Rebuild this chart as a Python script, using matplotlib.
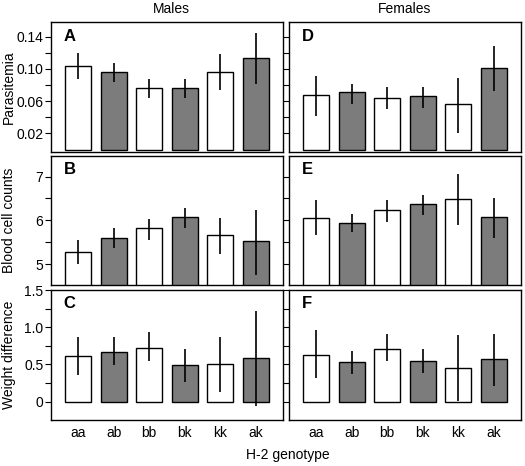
import numpy as np
import matplotlib
matplotlib.use("Agg")
import matplotlib.pyplot as plt

plt.rcParams['font.family'] = ['Liberation Sans', 'DejaVu Sans']

# 遺伝子型
genotypes = ["aa", "ab", "bb", "bk", "kk", "ak"]
bar_colors = ["white", "#7c7c7c", "white", "#7c7c7c", "white", "#7c7c7c"]

# A: Males parasitemia
para_m = [0.103, 0.0955, 0.0757, 0.0757, 0.0955, 0.113]
para_m_hi = [0.119, 0.107, 0.088, 0.088, 0.118, 0.144]
para_m_lo = [0.087, 0.084, 0.064, 0.064, 0.0736, 0.081]
# D: Females parasitemia
para_f = [0.067, 0.0708, 0.0634, 0.0658, 0.0559, 0.1005]
para_f_hi = [0.0906, 0.0807, 0.0777, 0.078, 0.0889, 0.1285]
para_f_lo = [0.041, 0.0563, 0.0497, 0.0517, 0.020, 0.0728]

# B: Males blood cell counts
blood_m = [5.27, 5.59, 5.82, 6.07, 5.66, 5.52]
blood_m_hi = [5.55, 5.82, 6.02, 6.28, 6.05, 6.24]
blood_m_lo = [4.99, 5.37, 5.55, 5.82, 5.24, 4.76]
# E: Females blood cell counts
blood_f = [6.05, 5.94, 6.23, 6.37, 6.49, 6.07]
blood_f_hi = [6.47, 6.14, 6.46, 6.58, 7.06, 6.51]
blood_f_lo = [5.66, 5.73, 5.97, 6.13, 5.90, 5.60]

# C: Males weight difference
weight_m = [0.62, 0.674, 0.727, 0.488, 0.501, 0.581]
weight_m_hi = [0.874, 0.874, 0.94, 0.709, 0.874, 1.214]
weight_m_lo = [0.355, 0.488, 0.549, 0.262, 0.129, -0.057]
# F: Females weight difference
weight_f = [0.63, 0.528, 0.714, 0.541, 0.448, 0.568]
weight_f_hi = [0.957, 0.682, 0.914, 0.714, 0.891, 0.904]
weight_f_lo = [0.315, 0.376, 0.545, 0.382, 0.004, 0.213]

# 行ごとの軸設定
rows = [
    dict(ylabel="Parasitemia", ylim=(-0.003, 0.158),
         ticks=[0.02, 0.04, 0.06, 0.08, 0.10, 0.12, 0.14],
         labels=["0.02", "", "0.06", "", "0.10", "", "0.14"]),
    dict(ylabel="Blood cell counts", ylim=(4.52, 7.47),
         ticks=[5, 5.5, 6, 6.5, 7],
         labels=["5", "", "6", "", "7"]),
    dict(ylabel="Weight difference", ylim=(-0.245, 1.5),
         ticks=[0, 0.25, 0.5, 0.75, 1.0, 1.25, 1.5],
         labels=["0", "", "0.5", "", "1.0", "", "1.5"]),
]
panels = [
    [("A", para_m, para_m_lo, para_m_hi), ("D", para_f, para_f_lo, para_f_hi)],
    [("B", blood_m, blood_m_lo, blood_m_hi), ("E", blood_f, blood_f_lo, blood_f_hi)],
    [("C", weight_m, weight_m_lo, weight_m_hi), ("F", weight_f, weight_f_lo, weight_f_hi)],
]

fig = plt.figure(figsize=(5.25, 4.66), dpi=100)
W, H = 525, 466
col_x = [51, 289]
col_w = 232
row_y = [(22, 152), (156, 285), (290, 420)]

x = np.arange(len(genotypes))
for r, row in enumerate(rows):
    top, bot = row_y[r]
    for c in range(2):
        ax = fig.add_axes([col_x[c] / W, (H - bot) / H, col_w / W, (bot - top) / H])
        letter, vals, lo, hi = panels[r][c]
        ax.bar(x, vals, width=0.74, color=bar_colors, edgecolor="black",
               linewidth=1.0, zorder=2)
        ax.vlines(x, lo, hi, colors="black", linewidth=1.2, zorder=3)
        ax.set_xlim(-0.77, 5.77)
        ax.set_ylim(*row["ylim"])
        ax.set_yticks(row["ticks"])
        if c == 0:
            ax.set_yticklabels(row["labels"])
            ax.set_ylabel(row["ylabel"], fontsize=10)
            ax.yaxis.set_label_coords(-0.152, 0.5)
        else:
            ax.set_yticklabels([])
        ax.tick_params(axis="y", direction="out", length=4, width=0.8,
                       labelsize=10, pad=1.5)
        if r == 2:
            ax.set_xticks(x)
            ax.set_xticklabels(genotypes, fontsize=10)
            ax.tick_params(axis="x", length=0, pad=4)
        else:
            ax.set_xticks([])
        for s in ax.spines.values():
            s.set_linewidth(1.0)
        ax.text(0.055, 0.95, letter, transform=ax.transAxes, fontsize=12,
                fontweight="bold", ha="left", va="top")

fig.text(171 / W, 1 - 9 / H, "Males", ha="center", va="center", fontsize=10)
fig.text(405 / W, 1 - 9 / H, "Females", ha="center", va="center", fontsize=10)
fig.text(288 / W, 1 - 455 / H, "H-2 genotype", ha="center", va="center", fontsize=10)

fig.savefig("out.png", dpi=100)
